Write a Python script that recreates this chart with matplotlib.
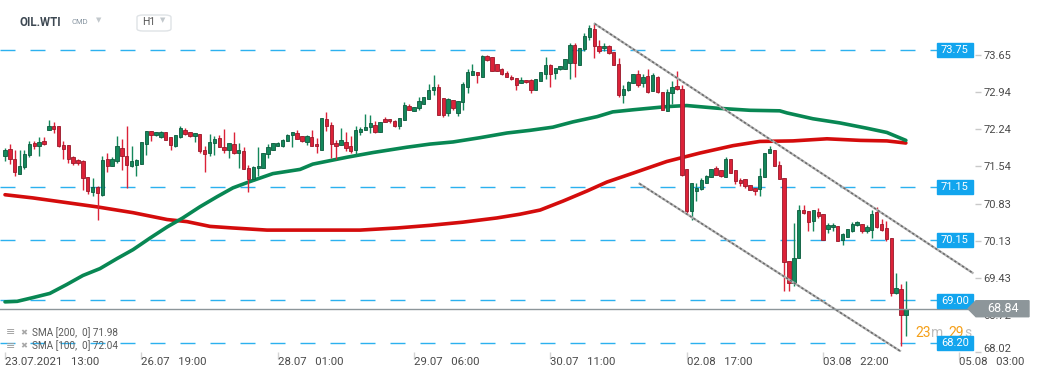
"""OIL.WTI H1 candles with SMA 100/200, levels and a falling channel."""
import matplotlib
matplotlib.use("Agg")
import matplotlib.pyplot as plt
import matplotlib.transforms as mtransforms
from matplotlib.patches import Polygon, Rectangle, FancyBboxPatch

# ---- data --------------------------------------------------------------
opens = [
    71.73, 71.87, 71.68, 71.39, 71.52, 71.75, 71.98, 71.92, 72.02, 72.22,
    72.31, 72.31, 71.94, 71.94, 71.71, 71.65, 71.63, 71.34, 71.05, 71.15,
    71.00, 71.67, 71.54, 71.63, 71.89, 71.74, 71.54, 71.57, 71.58, 71.96,
    72.21, 72.13, 72.09, 72.19, 72.09, 71.92, 72.09, 72.23, 72.18, 72.11,
    72.16, 71.84, 71.79, 71.98, 72.07, 71.90, 71.84, 71.97, 71.79, 71.82,
    71.51, 71.29, 71.51, 71.50, 71.78, 71.84, 71.93, 71.93, 72.01, 72.13,
    72.17, 72.11, 71.99, 72.09, 71.97, 71.85, 72.43, 72.32, 71.98, 71.95,
    72.00, 71.93, 71.84, 72.18, 72.22, 72.28, 72.33, 72.18, 72.44, 72.43,
    72.40, 72.31, 72.42, 72.69, 72.58, 72.64, 72.72, 72.81, 72.98, 73.04,
    72.84, 72.54, 72.80, 72.54, 72.75, 73.04, 73.27, 73.32, 73.24, 73.63,
    73.61, 73.48, 73.38, 73.30, 73.24, 73.21, 73.12, 73.18, 73.18, 72.99,
    73.16, 73.29, 73.46, 73.30, 73.38, 73.39, 73.50, 73.84, 73.46, 73.76,
    73.98, 74.14, 73.82, 73.78, 73.82, 73.71, 73.47, 72.89, 72.98, 73.11,
    73.28, 73.11, 73.25, 72.96, 73.23, 72.95, 72.58, 72.93, 73.06, 73.00,
    71.49, 70.69, 71.07, 71.10, 71.22, 71.34, 71.51, 71.46, 71.34, 71.67,
    71.46, 71.27, 71.29, 71.19, 71.13, 71.10, 71.34, 71.79, 71.84, 71.57,
    71.32, 69.74, 69.32, 69.81, 70.71, 70.69, 70.50, 70.68, 70.63, 70.36,
    70.39, 70.40, 70.14, 70.20, 70.31, 70.42, 70.45, 70.31, 70.34, 70.67,
    70.44, 70.37, 70.18, 69.13, 69.21, 68.73,
]
highs = [
    71.89, 71.97, 71.84, 71.84, 71.85, 72.02, 72.02, 72.09, 72.09, 72.42,
    72.37, 72.31, 72.02, 71.94, 71.73, 71.68, 71.65, 71.34, 71.32, 71.17,
    71.73, 71.80, 71.72, 72.12, 72.06, 72.30, 71.93, 71.68, 72.00, 72.21,
    72.21, 72.19, 72.21, 72.19, 72.09, 72.14, 72.31, 72.26, 72.19, 72.17,
    72.16, 71.92, 72.16, 72.11, 72.14, 72.25, 71.98, 72.18, 71.98, 71.90,
    71.56, 71.54, 71.90, 71.79, 71.97, 71.98, 71.99, 72.06, 72.16, 72.19,
    72.22, 72.11, 72.14, 72.23, 72.08, 72.45, 72.57, 72.38, 72.03, 72.26,
    72.18, 72.11, 72.31, 72.28, 72.53, 72.52, 72.39, 72.38, 72.47, 72.43,
    72.42, 72.45, 72.75, 72.72, 72.67, 72.86, 72.85, 73.10, 73.27, 73.10,
    72.84, 72.83, 72.80, 72.77, 73.13, 73.38, 73.48, 73.32, 73.65, 73.65,
    73.61, 73.48, 73.40, 73.34, 73.27, 73.21, 73.24, 73.18, 73.19, 73.19,
    73.32, 73.61, 73.48, 73.40, 73.44, 73.58, 73.88, 73.87, 73.78, 74.06,
    74.22, 74.24, 73.93, 73.88, 73.84, 73.71, 73.59, 73.08, 73.16, 73.28,
    73.36, 73.28, 73.39, 73.30, 73.25, 72.95, 73.00, 73.15, 73.34, 73.08,
    71.49, 71.22, 71.22, 71.32, 71.38, 71.49, 71.54, 71.46, 71.72, 71.67,
    71.46, 71.32, 71.29, 71.19, 71.13, 71.51, 71.79, 71.93, 71.84, 71.63,
    71.32, 69.74, 70.47, 70.81, 70.81, 70.69, 70.72, 70.74, 70.63, 70.47,
    70.46, 70.40, 70.28, 70.35, 70.48, 70.50, 70.45, 70.42, 70.72, 70.77,
    70.54, 70.50, 70.18, 69.52, 69.30, 69.37,
]
lows = [
    71.63, 71.58, 71.36, 71.39, 71.48, 71.72, 71.87, 71.73, 71.94, 72.22,
    72.17, 71.90, 71.67, 71.61, 71.57, 71.56, 71.09, 71.02, 70.97, 70.53,
    70.98, 71.44, 71.54, 71.60, 71.46, 71.13, 71.52, 71.35, 71.58, 71.76,
    72.01, 72.12, 72.07, 72.03, 71.85, 71.90, 72.07, 72.13, 72.09, 72.00,
    71.79, 71.44, 71.73, 71.76, 71.90, 71.79, 71.69, 71.78, 71.51, 71.48,
    71.05, 71.26, 71.36, 71.50, 71.69, 71.84, 71.93, 71.90, 72.01, 71.90,
    72.06, 72.00, 71.95, 71.92, 71.80, 71.85, 72.20, 71.70, 71.68, 71.95,
    71.82, 71.79, 71.76, 72.14, 72.22, 72.17, 72.17, 72.18, 72.38, 72.36,
    72.28, 72.25, 72.42, 72.60, 72.58, 72.61, 72.71, 72.81, 72.89, 72.52,
    72.47, 72.49, 72.61, 72.50, 72.60, 72.93, 73.27, 73.11, 73.24, 73.54,
    73.34, 73.34, 73.27, 73.23, 73.18, 72.99, 73.12, 73.12, 72.93, 72.99,
    73.16, 73.20, 73.05, 73.19, 73.37, 73.39, 73.20, 73.23, 73.46, 73.73,
    73.93, 73.59, 73.68, 73.73, 73.67, 73.46, 72.86, 72.73, 72.96, 73.11,
    73.04, 73.05, 72.93, 72.96, 72.93, 72.60, 72.58, 72.71, 72.99, 71.35,
    70.66, 70.53, 70.88, 71.09, 71.22, 71.34, 71.38, 71.34, 71.34, 71.41,
    71.21, 71.16, 71.13, 71.09, 70.99, 70.97, 71.34, 71.79, 71.54, 71.29,
    69.18, 69.18, 69.27, 69.81, 70.64, 70.31, 70.31, 70.56, 70.15, 70.28,
    70.31, 70.13, 70.05, 70.20, 70.29, 70.40, 70.27, 70.27, 70.18, 70.37,
    70.31, 70.12, 69.09, 69.11, 68.14, 68.32,
]
closes = [
    71.85, 71.68, 71.43, 71.54, 71.77, 71.96, 71.92, 72.00, 71.97, 72.31,
    72.25, 71.92, 71.87, 71.68, 71.60, 71.60, 71.31, 71.07, 71.15, 71.03,
    71.65, 71.54, 71.68, 71.93, 71.73, 71.56, 71.63, 71.65, 72.00, 72.21,
    72.14, 72.19, 72.18, 72.04, 71.94, 72.13, 72.26, 72.15, 72.12, 72.17,
    71.82, 71.78, 72.00, 72.06, 71.90, 71.84, 71.98, 71.79, 71.85, 71.49,
    71.29, 71.52, 71.55, 71.79, 71.91, 71.98, 71.98, 72.03, 72.14, 72.19,
    72.06, 72.01, 72.12, 71.92, 71.92, 72.45, 72.30, 71.96, 71.93, 72.04,
    71.88, 71.82, 72.23, 72.25, 72.28, 72.35, 72.18, 72.38, 72.38, 72.39,
    72.31, 72.45, 72.70, 72.60, 72.67, 72.78, 72.85, 72.99, 73.04, 72.52,
    72.52, 72.81, 72.64, 72.77, 73.10, 73.32, 73.34, 73.27, 73.63, 73.56,
    73.35, 73.35, 73.29, 73.23, 73.19, 73.07, 73.18, 73.13, 72.98, 73.19,
    73.32, 73.46, 73.29, 73.40, 73.43, 73.58, 73.84, 73.49, 73.78, 74.00,
    74.15, 73.81, 73.73, 73.82, 73.68, 73.46, 72.89, 73.00, 73.13, 73.28,
    73.08, 73.23, 72.95, 73.27, 72.95, 72.61, 72.95, 73.04, 73.00, 71.38,
    70.69, 71.22, 71.13, 71.27, 71.35, 71.49, 71.38, 71.35, 71.67, 71.41,
    71.26, 71.22, 71.16, 71.09, 71.07, 71.35, 71.79, 71.87, 71.54, 71.30,
    69.72, 69.33, 69.81, 70.71, 70.66, 70.48, 70.72, 70.59, 70.15, 70.42,
    70.42, 70.13, 70.25, 70.35, 70.45, 70.48, 70.31, 70.39, 70.64, 70.39,
    70.33, 70.17, 69.13, 69.23, 68.73, 68.84,
]

# moving averages, read at a set of candle positions
sma100_idx = [1, 3.5, 6.7, 10.2, 13.7, 17.0, 20.5, 24.0, 27.3, 30.8, 34.3,
              37.5, 41.0, 44.5, 47.8, 51.3, 56.0, 61.6, 64.2, 71.2, 76.6,
              83.5, 88.3, 93.0, 98.5, 104.1, 108.8, 113.5, 117.6, 122.6,
              125.8, 130.0, 136.9, 141.0, 147.2, 154.0, 160.1, 161.6, 166.9,
              172.5, 178.0, 182.1, 186.0]
sma100_val = [68.97, 68.98, 69.05, 69.13, 69.30, 69.47, 69.60, 69.79, 69.96,
              70.18, 70.39, 70.56, 70.77, 70.96, 71.13, 71.25, 71.40, 71.48,
              71.58, 71.71, 71.80, 71.90, 71.96, 72.00, 72.08, 72.17, 72.22,
              72.28, 72.38, 72.48, 72.57, 72.61, 72.67, 72.69, 72.64, 72.60,
              72.59, 72.55, 72.44, 72.36, 72.26, 72.18, 72.03]
sma200_idx = [1, 6.7, 13.7, 19.9, 27.3, 34.3, 38.4, 43.1, 47.8, 54.8, 61.6,
              73.9, 81.5, 88.3, 95.0, 102.0, 106.7, 110.9, 115.6, 120.5,
              124.6, 130.0, 136.9, 143.7, 150.5, 156.0, 162.8, 169.8, 176.6,
              182.1, 186.0]
sma200_val = [71.00, 70.94, 70.85, 70.77, 70.66, 70.53, 70.49, 70.40, 70.37,
              70.33, 70.33, 70.33, 70.37, 70.42, 70.48, 70.56, 70.63, 70.71,
              70.88, 71.07, 71.24, 71.41, 71.63, 71.79, 71.93, 72.01, 72.02,
              72.06, 72.03, 72.02, 71.98]

levels = [73.75, 71.15, 70.15, 69.00, 68.20]
last_price = 68.84

channel_upper = ([122.1, 199.7], [74.24, 69.52])
channel_lower = ([131.3, 184.8], [71.21, 68.04])

y_ticks = [68.02, 68.72, 69.43, 70.13, 70.83, 71.54, 72.24, 72.94, 73.65]
x_ticks = [1, 29, 57, 85, 113, 141, 169, 197]
x_labels = ["23.07.2021   13:00", "26.07   19:00", "28.07   01:00",
            "29.07   06:00", "30.07   11:00", "02.08   17:00",
            "03.08   22:00", "05.08   03:00"]

# ---- figure ---------------------------------------------------------------
plt.rcParams["font.family"] = ["Roboto", "DejaVu Sans"]
W, H = 1041, 379
fig = plt.figure(figsize=(W / 100, H / 100), dpi=100)
AX_R, AX_B = 975, 352
ax = fig.add_axes([0, 1 - AX_B / H, AX_R / W, AX_B / H])
ax.set_xlim(-0.03, 200.2)
ax.set_ylim(68.036, 74.69)
for s in ax.spines.values():
    s.set_visible(False)

# horizontal levels
for lv in levels:
    ax.axhline(lv, xmin=0, xmax=937 / AX_R, color="#2cb1ef", lw=1,
               dashes=(10.8, 10.8), zorder=1)

# SMAs
ax.plot(sma200_idx, sma200_val, color="#d40c0c", lw=2.6, zorder=2,
        solid_capstyle="round", solid_joinstyle="round")
ax.plot(sma100_idx, sma100_val, color="#088753", lw=2.6, zorder=2,
        solid_capstyle="round", solid_joinstyle="round")

# candles
idx = list(range(1, len(closes) + 1))
up_c, up_e = "#14875b", "#0b5a3c"
dn_c, dn_e = "#dc2238", "#98182a"
for i, o, h, l, c in zip(idx, opens, highs, lows, closes):
    up = c >= o
    ax.vlines(i, l, h, color=up_c if up else dn_c, lw=1, zorder=3)
    ax.bar(i, max(abs(c - o), 0.02), bottom=min(o, c), width=0.7,
           color=up_c if up else dn_c, edgecolor=up_e if up else dn_e,
           linewidth=0.6, zorder=3)

# falling channel
for xs, ys in (channel_upper, channel_lower):
    ax.plot(xs, ys, color="#b4b4b4", lw=1.6, zorder=4)
    ax.plot(xs, ys, color="#6a6a6a", lw=1.1, dashes=(1.5, 1.5), zorder=4)

# last price line
ax.axhline(last_price, xmin=0, xmax=970 / AX_R, color="#8d969a", lw=1, zorder=5)

# level tags on the right
fig.canvas.draw()
for lv in levels:
    ypx = ax.transData.transform((0, lv))[1]
    fig.patches.append(Rectangle((937 / W, (ypx - 7) / H), 36 / W, 14 / H,
                                 transform=fig.transFigure, color="#12a5ee",
                                 zorder=6))
    fig.text(955 / W, ypx / H, f"{lv:.2f}", color="white", fontsize=8,
             ha="center", va="center", zorder=7)

# axis ticks
ax.yaxis.tick_right()
ax.set_yticks(y_ticks)
ax.set_yticklabels([f"{v:.2f}" for v in y_ticks])
ax.tick_params(axis="y", length=4, width=1, color="#c9c9c9", pad=2,
               labelsize=8, labelcolor="#4a4a4a")
# lowest label sits a little higher, clear of the time axis
low_lbl = ax.get_yticklabels()[0]
low_lbl.set_transform(low_lbl.get_transform() +
                      mtransforms.ScaledTranslation(0, 3 / 72,
                                                    fig.dpi_scale_trans))
ax.set_xticks(x_ticks)
ax.set_xticklabels(x_labels, ha="left")
ax.tick_params(axis="x", length=5, width=1, color="#d4d4d4", pad=-1.5,
               labelsize=8.2, labelcolor="#4a4a4a")

# last price tag
ypx = ax.transData.transform((0, last_price))[1]
tag = [(968, ypx), (976, ypx + 8), (1029, ypx + 8), (1029, ypx - 8),
       (976, ypx - 8)]
fig.patches.append(Polygon([(x / W, y / H) for x, y in tag], closed=True,
                           transform=fig.transFigure, color="#8d969a",
                           zorder=8))
fig.text(1003 / W, ypx / H, f"{last_price:.2f}", color="white", fontsize=9,
         ha="center", va="center", zorder=9)

# countdown
cy = 1 - 333 / H
fig.text(915 / W, cy, "23", color="#f5a01a", fontsize=10, va="center")
fig.text(930.5 / W, cy, "m", color="#bdbdbd", fontsize=10, va="center")
fig.text(948 / W, cy, "29", color="#f5a01a", fontsize=10, va="center")
fig.text(964 / W, cy, "s", color="#bdbdbd", fontsize=10, va="center")

# header
hy = 1 - 22 / H
fig.text(20 / W, hy, "OIL.WTI", color="#3d4852", fontsize=8.3,
         fontweight="bold", va="center")
fig.text(72 / W, hy, "CMD", color="#8694a0", fontsize=5.5, va="center")
fig.text(96 / W, hy + 0.004, "\u25BC", color="#c2c8cc", fontsize=5,
         va="center")
fig.patches.append(FancyBboxPatch((137 / W, 1 - 31 / H), 34 / W, 16 / H,
                                  boxstyle="round,pad=0,rounding_size=0.006",
                                  transform=fig.transFigure, fc="white",
                                  ec="#dfe3e6", lw=1))
fig.text(142 / W, hy, "H1", color="#555555", fontsize=7.5, va="center")
fig.text(160 / W, hy + 0.004, "\u25BC", color="#c2c8cc", fontsize=5,
         va="center")

# SMA legend
for ly, txt in ((332.5, "SMA [200,  0] 71.98"), (346, "SMA [100,  0] 72.04")):
    fy = 1 - ly / H
    fig.text(6 / W, fy, "\u2261", color="#a0a0a0", fontsize=8, va="center")
    fig.text(20 / W, fy, "\u2716", color="#a8a8a8", fontsize=6, va="center",
             family="DejaVu Sans")
    fig.text(31.5 / W, fy, txt, color="#5a5a5a", fontsize=7.2, va="center")

fig.savefig("out.png", dpi=100)
